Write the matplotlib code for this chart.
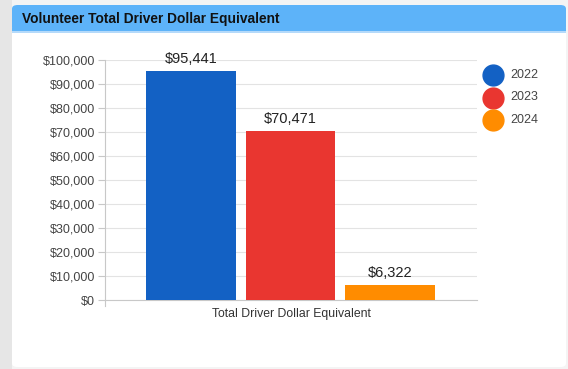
import matplotlib.pyplot as plt
from matplotlib.patches import FancyBboxPatch, Rectangle
from matplotlib.lines import Line2D
from matplotlib.ticker import FuncFormatter

years = ['2022', '2023', '2024']
values = [95441, 70471, 6322]
colors = ['#1361c4', '#e93630', '#ff8c00']
category = 'Total Driver Dollar Equivalent'
title = 'Volunteer Total Driver Dollar Equivalent'

W, H = 568, 369
fig = plt.figure(figsize=(W / 100, H / 100), dpi=100)
fig.patch.set_facecolor('#f4f4f4')

def fx(px):
    return px / W

def fy(py):
    return 1 - py / H

# grey side strip on the left
fig.patches.append(Rectangle((0, 0), fx(12), 1, transform=fig.transFigure,
                             facecolor='#e6e6e6', edgecolor='none', zorder=-4))

# card with blue header
card = FancyBboxPatch((fx(12), fy(367)), fx(566) - fx(12), fy(5) - fy(367),
                      boxstyle='round,pad=0,rounding_size=0.01',
                      transform=fig.transFigure, facecolor='white',
                      edgecolor='none', zorder=-3)
fig.patches.append(card)
header = FancyBboxPatch((fx(12), fy(31)), fx(566) - fx(12), fy(5) - fy(31),
                        boxstyle='round,pad=0,rounding_size=0.01',
                        transform=fig.transFigure, facecolor='#5db3f9',
                        edgecolor='none', zorder=-2)
fig.patches.append(header)
fig.patches.append(Rectangle((fx(12), fy(33)), fx(566) - fx(12), fy(28) - fy(33),
                             transform=fig.transFigure, facecolor='#5db3f9',
                             edgecolor='none', zorder=-2))
fig.patches.append(Rectangle((fx(12), fy(33)), fx(566) - fx(12), fy(31.5) - fy(33),
                             transform=fig.transFigure, facecolor='#b5dafa',
                             edgecolor='none', zorder=-2))
fig.text(fx(22), fy(19), title, fontsize=9.9, fontweight='bold',
         color='#111111', va='center', ha='left', family='Liberation Sans')

ax = fig.add_axes([fx(105), fy(300), fx(477) - fx(105), fy(60) - fy(300)])
ax.set_zorder(1)
ax.set_facecolor('none')
x = list(range(len(values)))
bars = ax.bar(x, values, width=0.9, color=colors, zorder=3)
for xi, v in zip(x, values):
    ax.text(xi, v + 2000, '${:,}'.format(v), ha='center', va='bottom',
            fontsize=10.5, color='#222222', family='Liberation Sans')

ax.set_ylim(0, 100000)
ax.set_xlim(-0.864, 2.874)
ax.set_yticks(range(0, 100001, 10000))
ax.yaxis.set_major_formatter(FuncFormatter(lambda v, p: '${:,.0f}'.format(v)))
ax.grid(axis='y', color='#e3e3e3', linewidth=0.8, zorder=0)
ax.set_xticks([])
for s in ['top', 'right']:
    ax.spines[s].set_visible(False)
ax.spines['left'].set_color('#c8c8c8')
ax.spines['bottom'].set_color('#c8c8c8')
ax.tick_params(axis='y', length=5, color='#c8c8c8', labelcolor='#444444',
               labelsize=9, pad=2)
for lab in ax.get_yticklabels():
    lab.set_family('Liberation Sans')
# small extension of the y axis below zero
ax.plot([0, 0], [0, -0.025], transform=ax.transAxes, color='#c8c8c8',
        linewidth=0.8, clip_on=False)
ax.set_xlabel(category, fontsize=8.8, color='#333333', labelpad=6,
              family='Liberation Sans')

# legend: filled circles with year labels
for i, (yr, c) in enumerate(zip(years, colors)):
    yy = fy(75 + i * 22.5)
    fig.add_artist(Line2D([fx(493)], [yy], marker='o', linestyle='none',
                          markersize=15, markerfacecolor=c, markeredgecolor=c,
                          transform=fig.transFigure))
    fig.text(fx(510), yy, yr, fontsize=9, color='#444444', va='center',
             ha='left', family='Liberation Sans')

fig.savefig('out.png', dpi=100, facecolor=fig.get_facecolor())
